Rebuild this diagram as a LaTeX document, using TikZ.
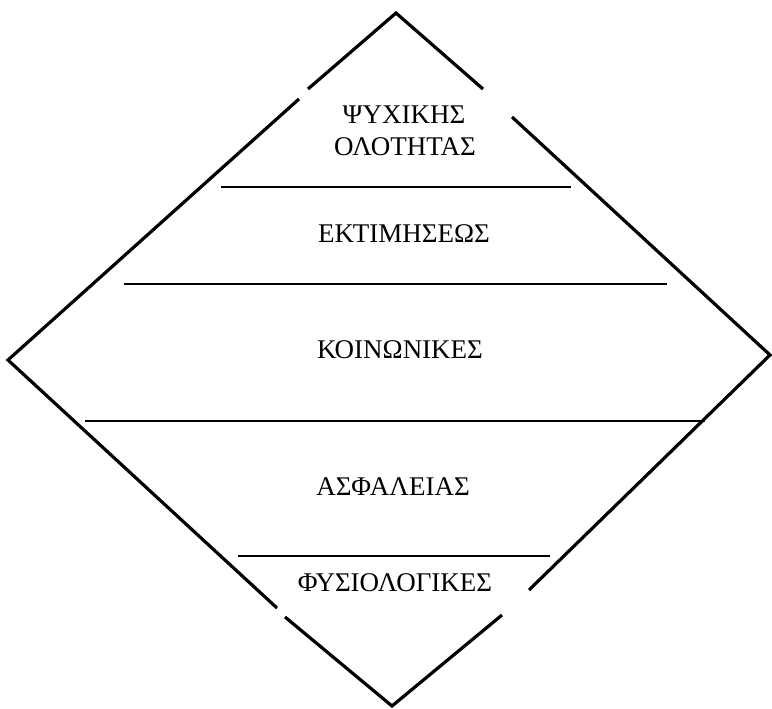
\documentclass[tikz,border=0pt]{standalone}
\usepackage{fontspec}
\setmainfont{Liberation Serif}
\usetikzlibrary{
    positioning,           % Relative positioning
    calc                   % Coordinate calculations
}

\tikzset{
    rim/.style={line width=3.2pt},
    tier/.style={line width=2.8pt},
    tierlabel/.style={font=\fontsize{27}{31}\selectfont, inner sep=0pt, anchor=base}
}

\begin{document}
\begin{tikzpicture}[x=1pt,y=-1pt]
    \useasboundingbox (0,0) rectangle (772,709);
    % corners of the diamond
    \coordinate (top) at (396,13);
    \coordinate (left) at (8,360);
    \coordinate (right) at (770,355);
    \coordinate (bottom) at (392,706);
    % outline, broken where the edges pass the labels
    \draw[rim] (308,89) -- (top) -- (483,89);
    \draw[rim] (299,99) -- (left) -- (277,608);
    \draw[rim] (512,117) -- (right) -- (529,590);
    \draw[rim] (285,617) -- (bottom) -- (502,615);
    % tiers
    \draw[tier] (221,187) -- (571,187);
    \draw[tier] (124,284) -- (667,284);
    \draw[tier] (85,421) -- (705,421);
    \draw[tier] (238,556) -- (550,556);
    % labels
    \node[tierlabel] (psyche) at (404,124) {ΨΥΧΙΚΗΣ};
    \node[tierlabel] (whole) at (405,156) {ΟΛΟΤΗΤΑΣ};
    \node[tierlabel] (esteem) at (404,242) {ΕΚΤΙΜΗΣΕΩΣ};
    \node[tierlabel] (social) at (400,358) {ΚΟΙΝΩΝΙΚΕΣ};
    \node[tierlabel] (safety) at (393,495) {ΑΣΦΑΛΕΙΑΣ};
    \node[tierlabel] (body) at (395,591) {ΦΥΣΙΟΛΟΓΙΚΕΣ};
\end{tikzpicture}
\end{document}
